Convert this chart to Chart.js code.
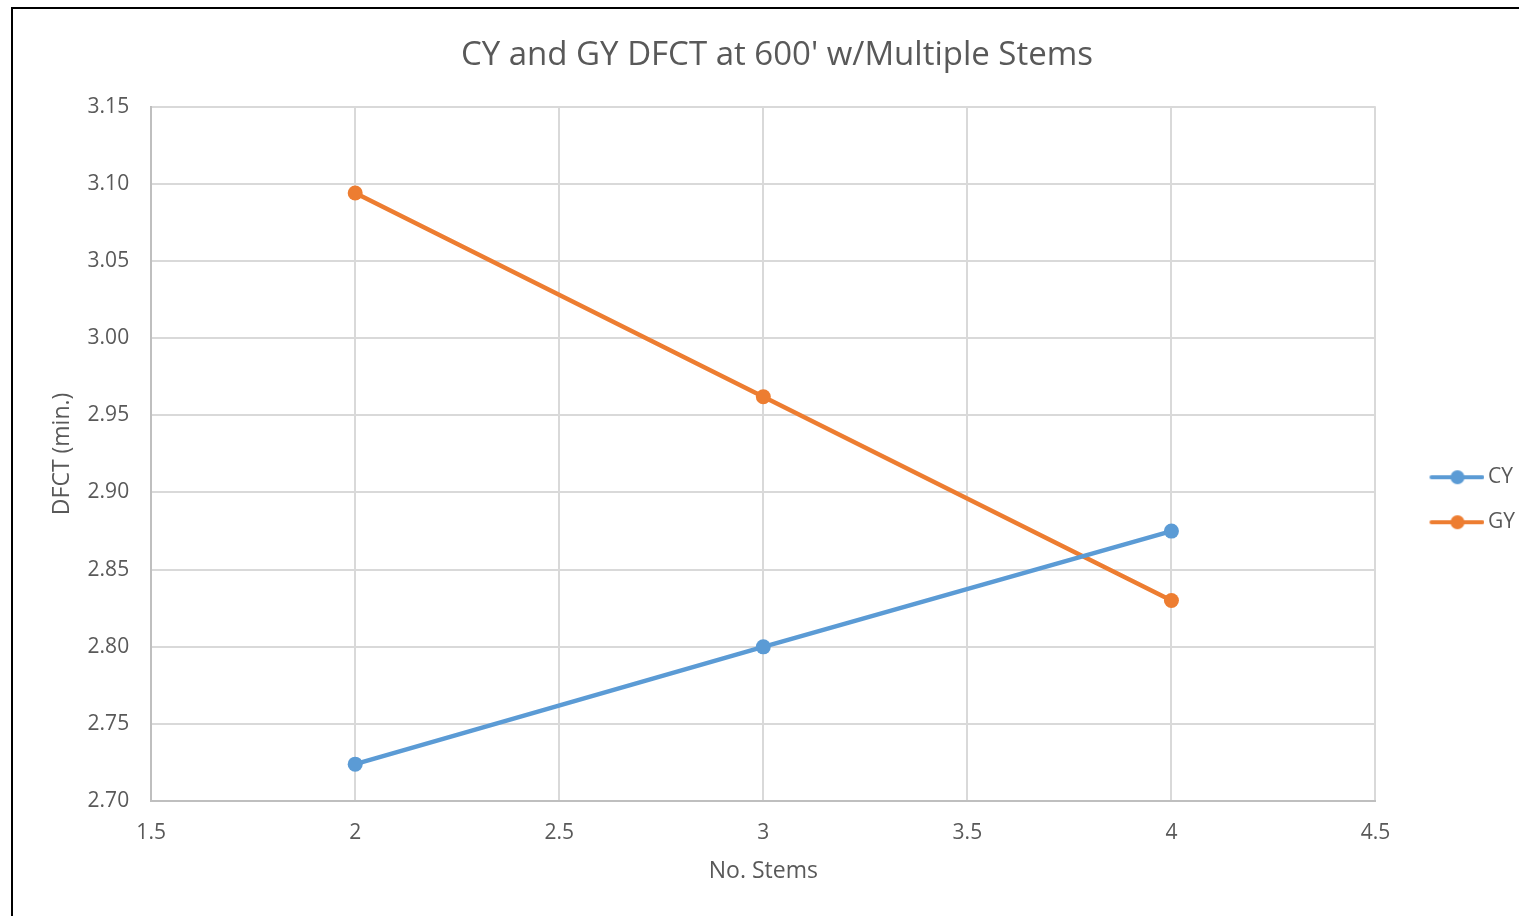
<!DOCTYPE html>
<html>
<head>
<meta charset="utf-8">
<script src="https://cdn.jsdelivr.net/npm/chart.js@4"></script>
<style>
  body { margin: 0; background: #fff; overflow: hidden; }
  #frame { position: absolute; left: 11px; top: 7px; width: 1600px; height: 1000px; border: 2px solid #000; }
  #dfct { position: absolute; left: 13px; top: 9px; }
</style>
</head>
<body>
<div id="frame"></div>
<canvas id="dfct" width="1512" height="907"></canvas>
<script>
// data
var stems = [2, 3, 4]
var cyValues = [2.724, 2.800, 2.875]
var gyValues = [3.094, 2.962, 2.830]
var seriesNames = ['CY', 'GY']
var cores = ['#5b9bd5', '#ed7d31']

var textColor = '#595959'
var fontFamily = '"Open Sans", sans-serif'

function toPoints(values) {
    return stems.map(function(s, i) { return {x: s, y: values[i]} })
}

// legend icon: line with a dot in the middle, like excel
function legendIcon(cor) {
    var c = document.createElement('canvas')
    c.width = 92
    c.height = 16
    var g = c.getContext('2d')
    g.strokeStyle = cor
    g.lineWidth = 4
    g.lineCap = 'round'
    g.beginPath()
    g.moveTo(39, 8)
    g.lineTo(90, 8)
    g.stroke()
    g.fillStyle = cor
    g.beginPath()
    g.arc(65, 8, 7, 0, Math.PI * 2)
    g.fill()
    return c
}
var icons = cores.map(legendIcon)

var ctx = document.getElementById('dfct')
var chartLine = new Chart(ctx, {
    type: 'line',
    data: {
        datasets: [
            {label: seriesNames[0], data: toPoints(cyValues)},
            {label: seriesNames[1], data: toPoints(gyValues)}
        ].map(function(ds, i) {
            ds.borderColor = cores[i]
            ds.backgroundColor = cores[i]
            ds.borderWidth = 4.5
            ds.pointRadius = 7.5
            ds.pointHoverRadius = 7.5
            ds.pointBorderWidth = 0
            ds.fill = false
            ds.tension = 0
            return ds
        })
    },
    options: {
        responsive: false,
        animation: false,
        layout: {padding: {left: 16, right: 0, top: 0, bottom: 0}},
        plugins: {
            tooltip: {enabled: false},
            title: {
                display: true,
                text: "CY and GY DFCT at 600' w/Multiple Stems",
                color: textColor,
                font: {family: fontFamily, size: 33, weight: 'normal'},
                padding: {top: 27, bottom: 31}
            },
            legend: {
                position: 'right',
                title: {display: true, text: '', font: {size: 12}, padding: {top: 0, bottom: 60}},
                labels: {
                    usePointStyle: true,
                    pointStyleWidth: 78,
                    padding: 24,
                    color: textColor,
                    font: {family: fontFamily, size: 21},
                    generateLabels: function(chart) {
                        var items = Chart.defaults.plugins.legend.labels.generateLabels(chart)
                        items.forEach(function(it) { it.pointStyle = icons[it.datasetIndex] })
                        return items
                    }
                }
            }
        },
        scales: {
            x: {
                type: 'linear',
                min: 1.5,
                max: 4.5,
                ticks: {
                    stepSize: 0.5,
                    color: textColor,
                    padding: 19,
                    font: {family: fontFamily, size: 21},
                    callback: function(value) { return String(+value.toFixed(1)) }
                },
                grid: {color: '#d9d9d9', lineWidth: 2, drawTicks: false},
                border: {color: '#bfbfbf', width: 2},
                title: {
                    display: true,
                    text: 'No. Stems',
                    color: textColor,
                    font: {family: fontFamily, size: 23},
                    padding: {top: -7, bottom: 31}
                }
            },
            y: {
                min: 2.7,
                max: 3.15,
                ticks: {
                    stepSize: 0.05,
                    color: textColor,
                    padding: 22,
                    font: {family: fontFamily, size: 21},
                    callback: function(value) { return value.toFixed(2) }
                },
                grid: {color: '#d9d9d9', lineWidth: 2, drawTicks: false},
                border: {color: '#bfbfbf', width: 2},
                title: {
                    display: true,
                    text: 'DFCT (min.)',
                    color: textColor,
                    font: {family: fontFamily, size: 23},
                    padding: {top: 20, bottom: -11}
                }
            }
        }
    }
})
</script>
</body>
</html>
